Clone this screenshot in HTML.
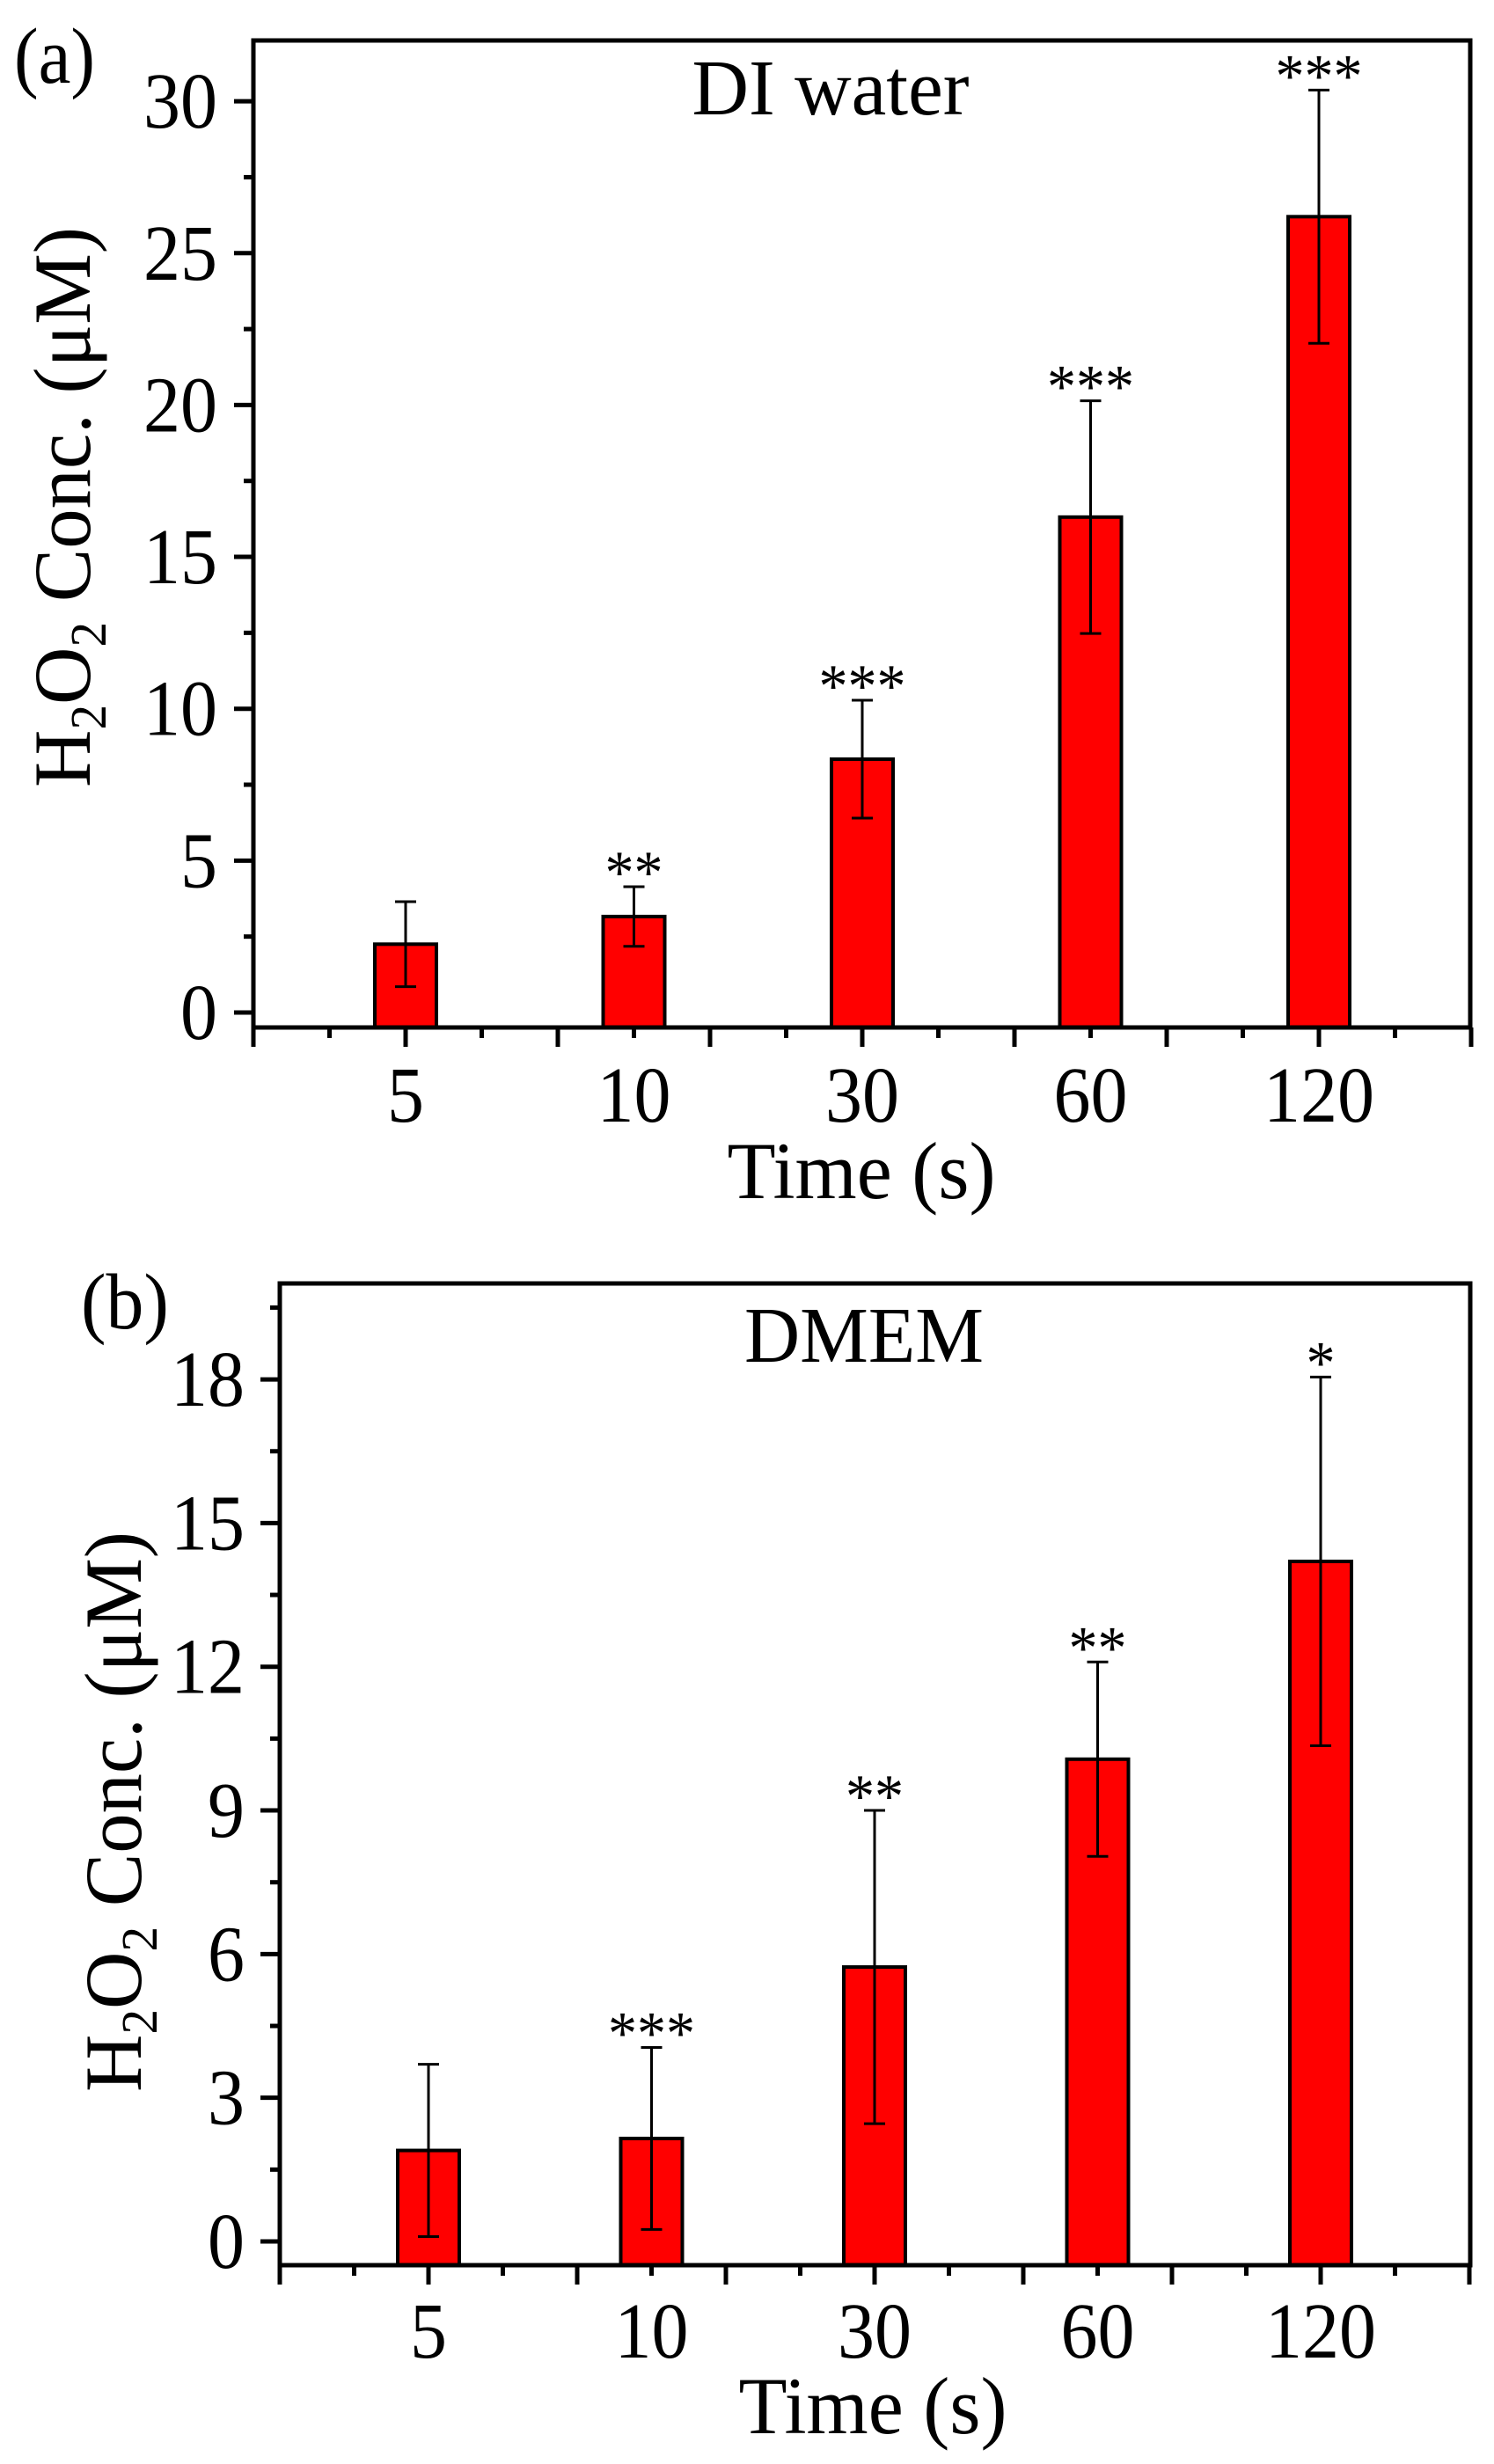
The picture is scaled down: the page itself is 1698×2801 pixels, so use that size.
<!DOCTYPE html>
<html><head><meta charset="utf-8">
<style>
html,body{margin:0;padding:0;background:#fff;}
svg{display:block;font-family:"Liberation Serif","Times New Roman",serif;}
</style></head>
<body>
<svg id="fig" width="1698" height="2801" viewBox="0 0 1698 2801"></svg>
<script>
const categories = ["5", "10", "30", "60", "120"];
const diMeans = [2.25, 3.16, 8.34, 16.31, 26.2];
const diErrors = [1.4, 0.98, 1.94, 3.83, 4.17];
const diStars = ["", "**", "***", "***", "***"];
const diYTicks = [0, 5, 10, 15, 20, 25, 30];
const dmemMeans = [1.9, 2.15, 5.73, 10.07, 14.2];
const dmemErrors = [1.8, 1.9, 3.27, 2.03, 3.85];
const dmemStars = ["", "***", "**", "**", "*"];
const dmemYTicks = [0, 3, 6, 9, 12, 15, 18];

const NS = "http://www.w3.org/2000/svg";
const svg = document.getElementById("fig");
function mk(tag, attrs, parent) {
  const e = document.createElementNS(NS, tag);
  for (const k in attrs) e.setAttribute(k, attrs[k]);
  (parent || svg).appendChild(e);
  return e;
}
function fit(t, len) {
  t.setAttribute("textLength", len);
  t.setAttribute("lengthAdjust", "spacingAndGlyphs");
}

function panel(cfg) {
  const g = mk("g", {});
  
  
  const L = cfg.left, R = cfg.right, T = cfg.top, B = cfg.bottom;
  const y = v => cfg.y0px - (v) * cfg.ppu;
  const x = c => cfg.cat1px + (c - 1) * cfg.step;

  cfg.means.forEach((m, i) => {
    const cx = x(i + 1);
    const bar = mk("rect", {x: cx - 35, y: y(m), width: 70, height: B - y(m), fill: "#ff0000", stroke: "#000", "stroke-width": 4}, g);
    
    
    const e = cfg.errs[i];
    const eb = mk("path", {d: `M${cx},${y(m + e)}V${y(m - e)}M${cx - 12},${y(m + e)}H${cx + 12}M${cx - 12},${y(m - e)}H${cx + 12}`, stroke: "#000", "stroke-width": 3, fill: "none"}, g);
    
    
    if (cfg.stars[i]) {
      const s = mk("text", {x: cx, y: y(m + e) + 7, "font-size": 70, "text-anchor": "middle"}, g);
      s.textContent = cfg.stars[i];
      fit(s, cfg.stars[i].length * 33);
      
      
    }
  });

  const fr = mk("rect", {x: L, y: T, width: R - L, height: B - T, fill: "none", stroke: "#000", "stroke-width": 5}, g);
  
  

  const yt = cfg.yTicks;
  const half = (yt[1] - yt[0]) / 2;
  for (let v = yt[0]; v <= cfg.ymax; v += half) {
    const r = (v - yt[0]) / (yt[1] - yt[0]);
    const major = Math.abs(r - Math.round(r)) < 1e-6;
    mk("line", {x1: L - (major ? 22 : 11), x2: L, y1: y(v), y2: y(v), stroke: "#000", "stroke-width": 5}, g);
  }
  yt.forEach(v => {
    const t = mk("text", {x: cfg.ylabRight, y: y(v) + 30, "font-size": 90, "text-anchor": "end"}, g);
    t.textContent = v;
    fit(t, String(v).length * 42);
    
    
  });

  for (let k = 0; k <= 16; k++) {
    const px = L + k * cfg.step / 3;
    mk("line", {x1: px, x2: px, y1: B, y2: B + (k % 2 === 0 ? 22 : 12), stroke: "#000", "stroke-width": 5}, g);
  }
  categories.forEach((c, i) => {
    const t = mk("text", {x: x(i + 1), y: cfg.xlabBase, "font-size": 90, "text-anchor": "middle"}, g);
    t.textContent = c;
    fit(t, c.length * 42);
    
    
  });

  const xt = mk("text", {x: cfg.xtitleX, y: cfg.xtitleBase, "font-size": 92, "text-anchor": "middle"}, g);
  xt.textContent = "Time (s)";
  fit(xt, 305);
  
  

  const ytl = mk("text", {x: 0, y: 0, "font-size": 92, transform: `translate(${cfg.ytitleX},${cfg.ytitleY}) rotate(-90)`}, g);
  ytl.innerHTML = 'H<tspan font-size="58" dy="18">2</tspan><tspan dy="-18">O</tspan><tspan font-size="58" dy="18">2</tspan><tspan dy="-18"> Conc. (μM)</tspan>';
  fit(ytl, 637);
  
  

  const tt = mk("text", {x: cfg.titleX, y: cfg.titleY, "font-size": 90, "text-anchor": "middle"}, g);
  tt.textContent = cfg.title;
  fit(tt, cfg.titleW);
  
  

  const pl = mk("text", {x: cfg.plX, y: cfg.plY, "font-size": 90}, g);
  pl.textContent = cfg.plabel;
  fit(pl, cfg.plW);
  
  
}

panel({name: "panel-a-di-water", left: 288, right: 1671, top: 46, bottom: 1168,
  y0px: 1151, ppu: 34.53, ymax: 32, cat1px: 461, step: 259.5,
  means: diMeans, errs: diErrors, stars: diStars, yTicks: diYTicks,
  ylabRight: 247, xlabBase: 1275, xtitleX: 979, xtitleBase: 1362, ytitleX: 102, ytitleY: 895,
  title: "DI water", titleW: 315, titleX: 944, titleY: 130, plabel: "(a)", plW: 92, plX: 16, plY: 94});

panel({name: "panel-b-dmem", left: 318, right: 1671, top: 1459, bottom: 2575,
  y0px: 2548, ppu: 54.44, ymax: 20, cat1px: 487, step: 253.5,
  means: dmemMeans, errs: dmemErrors, stars: dmemStars, yTicks: dmemYTicks,
  ylabRight: 278, xlabBase: 2680, xtitleX: 992, xtitleBase: 2766, ytitleX: 160, ytitleY: 2378,
  title: "DMEM", titleW: 272, titleX: 982, titleY: 1548, plabel: "(b)", plW: 100, plX: 92, plY: 1510});
</script>
</body></html>
